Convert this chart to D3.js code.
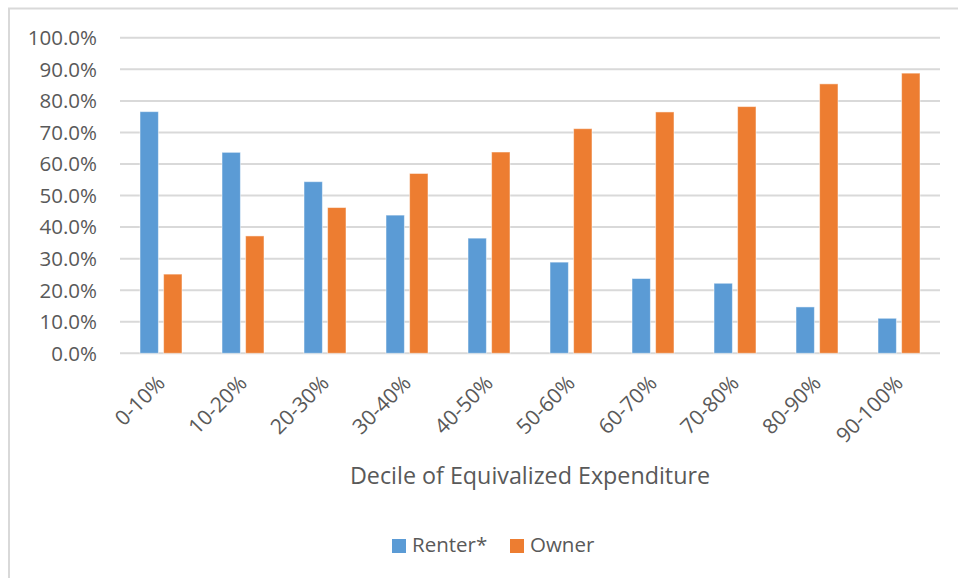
<!DOCTYPE html>
<html>
    <head>
        <meta charset="utf-8">
        <title></title>
        <style media="screen">
            body { margin: 0; background: #fff; }
            svg text {
                font-family: "Open Sans", sans-serif;
                fill: #595959;
            }
            svg .grid line {
                stroke: #d9d9d9;
                stroke-width: 2;
            }
            svg .frame {
                fill: none;
                stroke: #d9d9d9;
                stroke-width: 2;
            }
        </style>
    </head>
    <body>
        <svg class='drawing'></svg>

        <script src="https://d3js.org/d3.v7.min.js" charset="utf-8"></script>
        <script>
            var categories = ['0-10%', '10-20%', '20-30%', '30-40%', '40-50%',
                              '50-60%', '60-70%', '70-80%', '80-90%', '90-100%'];
            var seriesNames = ['Renter*', 'Owner'];
            var renter = [76.6, 63.7, 54.4, 43.8, 36.5, 28.9, 23.7, 22.2, 14.7, 11.1];
            var owner = [25.1, 37.2, 46.2, 57.0, 63.8, 71.2, 76.5, 78.2, 85.4, 88.8];
            var colors = ['#5b9bd5', '#ed7d31'];
            var yTicks = [0, 10, 20, 30, 40, 50, 60, 70, 80, 90, 100];

            var w = 958;
            var h = 578;
            var plotL = 120, plotR = 940, plotT = 37.8, plotB = 353.3;

            var svg = d3.select('.drawing')
                .attr('width', w)
                .attr('height', h)
                .style('display', 'block');

            svg.append('rect')
                .attr('class', 'frame')
                .attr('x', 9)
                .attr('y', 8.5)
                .attr('width', 980)
                .attr('height', 600);

            var x = d3.scaleBand()
                .domain(categories)
                .range([plotL, plotR]);
            var x1 = d3.scaleBand()
                .domain(seriesNames)
                .range([20, 62])
                .paddingInner(0.22);
            var y = d3.scaleLinear()
                .domain([0, 100])
                .range([plotB, plotT]);

            // gridlines
            svg.append('g')
                .attr('class', 'grid')
                .selectAll('line')
                .data(yTicks)
                .enter()
                    .append('line')
                    .attr('x1', plotL)
                    .attr('x2', plotR)
                    .attr('y1', d => y(d))
                    .attr('y2', d => y(d));

            // y labels
            svg.append('g')
                .selectAll('text')
                .data(yTicks)
                .enter()
                    .append('text')
                    .attr('x', 97)
                    .attr('y', d => y(d))
                    .attr('dy', '0.36em')
                    .attr('text-anchor', 'end')
                    .style('font-size', '20.5px')
                    .text(d => d.toFixed(1) + '%');

            var rows = categories.map((c, i) => ({cat: c, values: [renter[i], owner[i]]}));

            var groups = svg.append('g')
                .selectAll('g')
                .data(rows)
                .enter()
                    .append('g')
                    .attr('transform', d => 'translate(' + x(d.cat) + ',0)');
            groups.selectAll('rect')
                .data(d => d.values.map((v, j) => ({name: seriesNames[j], v: v, j: j})))
                .enter()
                    .append('rect')
                    .attr('x', d => x1(d.name))
                    .attr('width', x1.bandwidth())
                    .attr('y', d => y(d.v))
                    .attr('height', d => y(0) - y(d.v))
                    .attr('fill', d => colors[d.j])
                    .attr('stroke', '#fff')
                    .attr('stroke-opacity', 0.5)
                    .attr('stroke-width', 1);

            // category labels, rotated
            svg.append('g')
                .selectAll('text')
                .data(categories)
                .enter()
                    .append('text')
                    .attr('text-anchor', 'end')
                    .attr('transform', d => 'translate(' + (x(d) + x.bandwidth() / 2 - 5) + ',' + 374 + ') rotate(-45)')
                    .attr('dy', '0.7em')
                    .style('font-size', '21px')
                    .text(d => d);

            svg.append('text')
                .attr('x', (plotL + plotR) / 2)
                .attr('y', 484)
                .attr('text-anchor', 'middle')
                .style('font-size', '23.3px')
                .text('Decile of Equivalized Expenditure');

            // legend
            var legX = [392, 510];
            var leg = svg.append('g')
                .selectAll('g')
                .data(seriesNames)
                .enter()
                    .append('g')
                    .attr('transform', (d, i) => 'translate(' + legX[i] + ',539)');
            leg.append('rect')
                .attr('width', 14)
                .attr('height', 14)
                .attr('fill', (d, i) => colors[i]);
            leg.append('text')
                .attr('x', 20)
                .attr('y', 13)
                .style('font-size', '20.5px')
                .text(d => d);
        </script>
    </body>
</html>
